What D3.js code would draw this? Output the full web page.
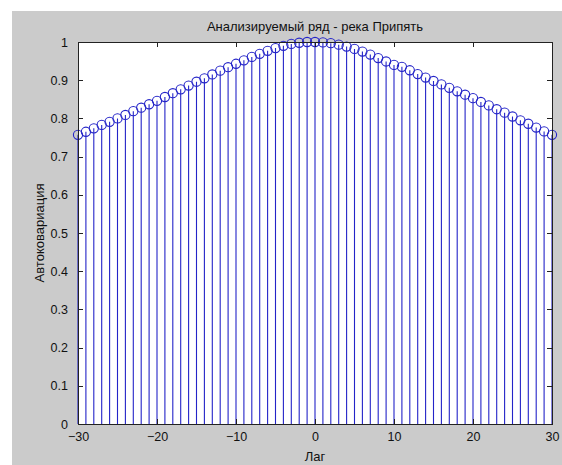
<!DOCTYPE html>
<html>
<head>
<meta charset="utf-8">
<script src="https://cdn.jsdelivr.net/npm/d3@7"></script>
<style>
  html, body { margin: 0; padding: 0; background: #ffffff; }
  svg { display: block; }
  text { font-family: "Liberation Sans", Arial, Helvetica, sans-serif; fill: #111; }
</style>
</head>
<body>
<script>
// Lags of the autocovariance function
const lags = d3.range(-30, 31);
// Autocovariance values (normalised), one per lag
const acov = [
  0.757, 0.765, 0.774, 0.783, 0.791, 0.800, 0.809, 0.819, 0.828, 0.837,
  0.846, 0.856, 0.866, 0.876, 0.886, 0.896, 0.905, 0.915, 0.925, 0.934,
  0.943, 0.952, 0.961, 0.969, 0.977, 0.984, 0.990, 0.995, 0.998, 1.000,
  1.000,
  0.999, 0.997, 0.993, 0.988, 0.982, 0.975, 0.967, 0.958, 0.949, 0.940,
  0.935, 0.926, 0.916, 0.907, 0.898, 0.889, 0.880, 0.871, 0.862, 0.853,
  0.843, 0.834, 0.824, 0.815, 0.805, 0.795, 0.786, 0.776, 0.766, 0.757
];
const xTicks = [-30, -20, -10, 0, 10, 20, 30];
const yTicks = [0, 0.1, 0.2, 0.3, 0.4, 0.5, 0.6, 0.7, 0.8, 0.9, 1];
const titleText = "Анализируемый ряд - река Припять";
const xLabel = "Лаг";
const yLabel = "Автоковариация";

const W = 562, H = 465;
const plot = { left: 78, top: 42, right: 552, bottom: 424 };
const stemColor = "#2424c8";

const svg = d3.select("body").append("svg").attr("width", W).attr("height", H);

// Figure background
svg.append("rect").attr("x", 12).attr("y", 11).attr("width", W - 12).attr("height", H - 11)
  .attr("fill", "#cbcbcb");

// Axes area
svg.append("rect").attr("x", plot.left).attr("y", plot.top)
  .attr("width", plot.right - plot.left).attr("height", plot.bottom - plot.top)
  .attr("fill", "#ffffff");

const x = d3.scaleLinear().domain([-30, 30]).range([plot.left, plot.right]);
const y = d3.scaleLinear().domain([0, 1]).range([plot.bottom, plot.top]);

const data = lags.map((k, i) => ({ lag: k, v: acov[i] }));

// Stems
svg.append("g").selectAll("line").data(data).join("line")
  .attr("x1", d => x(d.lag)).attr("x2", d => x(d.lag))
  .attr("y1", y(0)).attr("y2", d => y(d.v))
  .attr("stroke", stemColor).attr("stroke-width", 1.1);

// Markers
svg.append("g").selectAll("circle").data(data).join("circle")
  .attr("cx", d => x(d.lag)).attr("cy", d => y(d.v)).attr("r", 4.6)
  .attr("fill", "none").attr("stroke", stemColor).attr("stroke-width", 1.1);

// Axes with inward ticks on all four sides
const tickLen = 5;
const axColor = "#222";
const axB = d3.axisBottom(x).tickValues(xTicks).tickSizeInner(-tickLen).tickSizeOuter(0)
  .tickPadding(8).tickFormat(d3.format("d"));
const axT = d3.axisTop(x).tickValues(xTicks).tickSizeInner(-tickLen).tickSizeOuter(0).tickFormat("");
const axL = d3.axisLeft(y).tickValues(yTicks).tickSizeInner(-tickLen).tickSizeOuter(0)
  .tickPadding(10).tickFormat(d => d === 0 ? "0" : d === 1 ? "1" : d3.format(".1f")(d));
const axR = d3.axisRight(y).tickValues(yTicks).tickSizeInner(-tickLen).tickSizeOuter(0).tickFormat("");

function styleAxis(g) {
  g.select(".domain").remove();
  g.selectAll(".tick line").attr("stroke", axColor).attr("shape-rendering", "crispEdges");
  g.selectAll(".tick text").attr("font-size", 12.5).attr("fill", "#111")
    .attr("font-family", "'Liberation Sans', Arial, sans-serif");
}

svg.append("g").attr("transform", `translate(0,${plot.bottom})`).call(axB).call(styleAxis);
svg.append("g").attr("transform", `translate(0,${plot.top})`).call(axT).call(styleAxis);
svg.append("g").attr("transform", `translate(${plot.left},0)`).call(axL).call(styleAxis);
svg.append("g").attr("transform", `translate(${plot.right},0)`).call(axR).call(styleAxis);

// Box
svg.append("rect").attr("x", plot.left + 0.5).attr("y", plot.top + 0.5)
  .attr("width", plot.right - plot.left).attr("height", plot.bottom - plot.top)
  .attr("fill", "none").attr("stroke", axColor).attr("stroke-width", 1);

// Title and axis labels
svg.append("text").attr("x", (plot.left + plot.right) / 2).attr("y", 31)
  .attr("text-anchor", "middle").attr("font-size", 13).text(titleText);
svg.append("text").attr("x", (plot.left + plot.right) / 2).attr("y", 461)
  .attr("text-anchor", "middle").attr("font-size", 13).text(xLabel);
svg.append("text").attr("transform", `translate(44,${(plot.top + plot.bottom) / 2}) rotate(-90)`)
  .attr("text-anchor", "middle").attr("font-size", 13).text(yLabel);
</script>
</body>
</html>
